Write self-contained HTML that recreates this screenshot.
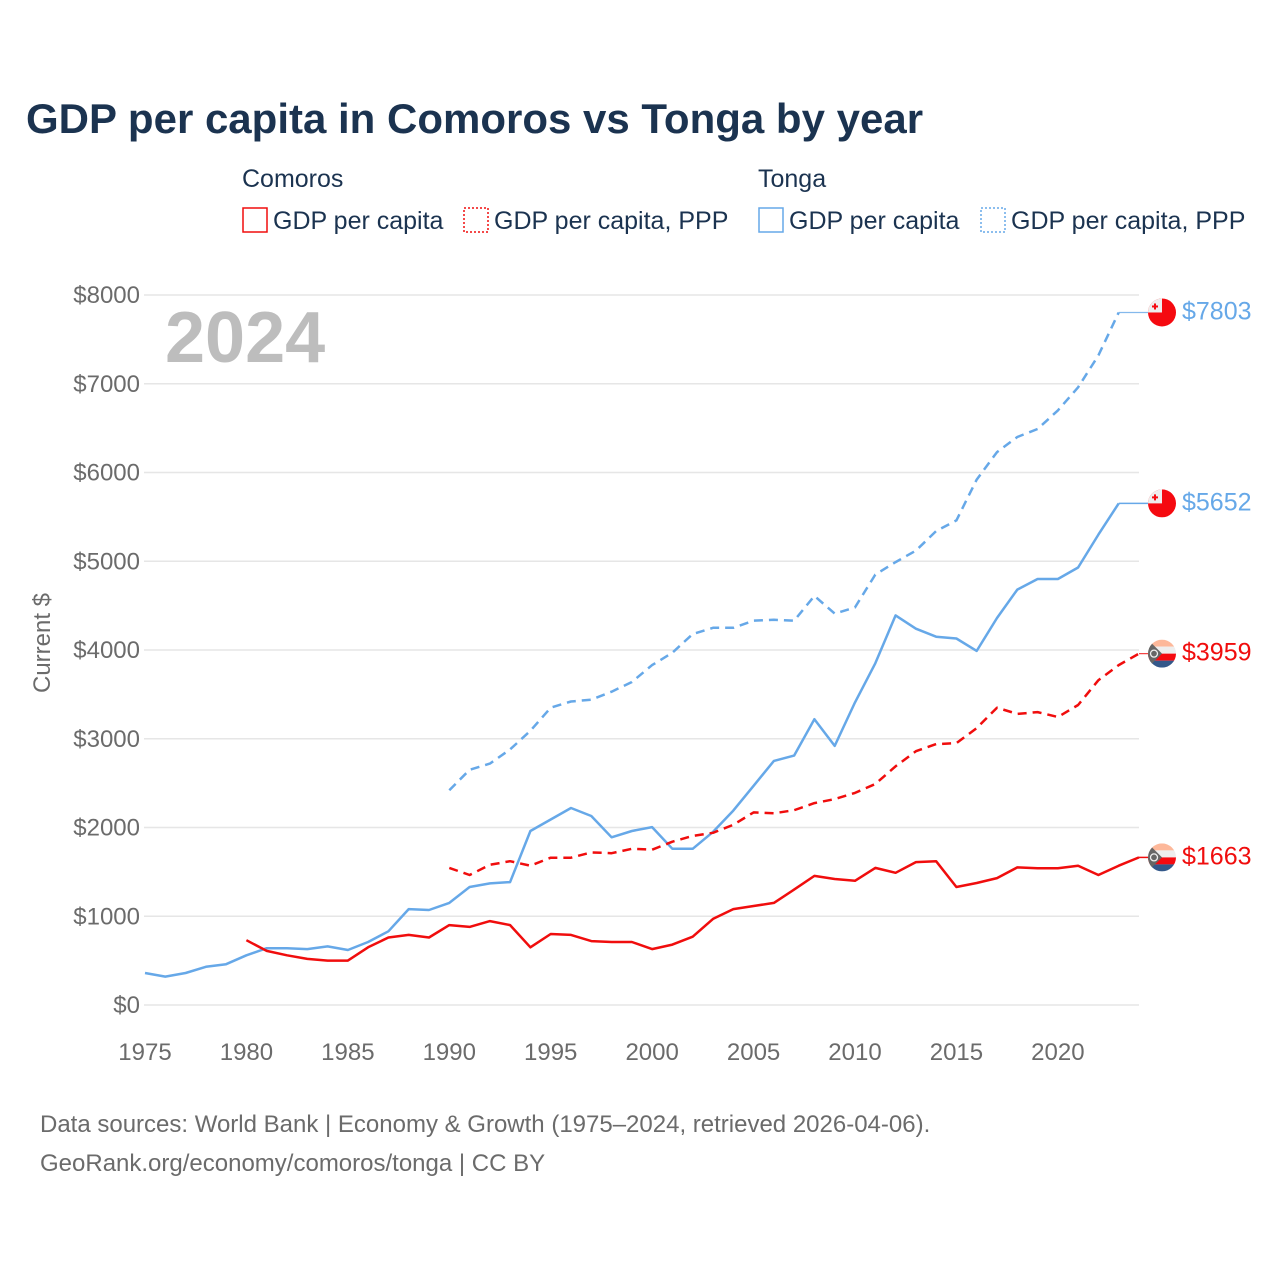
<!DOCTYPE html>
<html><head><meta charset="utf-8">
<style>
html,body{margin:0;padding:0;background:#fff;}
svg{display:block;font-family:"Liberation Sans",sans-serif;}
</style></head>
<body>
<svg id="chart" width="1280" height="1280" viewBox="0 0 1280 1280" xmlns="http://www.w3.org/2000/svg">
  <text x="26" y="133" font-size="42" font-weight="bold" fill="#1b3350">GDP per capita in Comoros vs Tonga by year</text>
  <g font-size="25" fill="#1b3350">
    <text x="242" y="187">Comoros</text>
    <text x="758" y="187">Tonga</text>
    <g><rect x="243" y="208" width="24" height="24" fill="none" stroke="#f00d0d" stroke-width="1.5"/><text x="273" y="229">GDP per capita</text></g>
    <g><rect x="464" y="208" width="24" height="24" fill="none" stroke="#f00d0d" stroke-width="1.5" stroke-dasharray="2,2"/><text x="494" y="229">GDP per capita, PPP</text></g>
    <g><rect x="759" y="208" width="24" height="24" fill="none" stroke="#66a8e8" stroke-width="1.5"/><text x="789" y="229">GDP per capita</text></g>
    <g><rect x="981" y="208" width="24" height="24" fill="none" stroke="#66a8e8" stroke-width="1.5" stroke-dasharray="2,2"/><text x="1011" y="229">GDP per capita, PPP</text></g>
  </g>
  <text x="165" y="362" font-size="72" font-weight="bold" fill="#bdbdbd">2024</text>
  <text transform="translate(50,643) rotate(-90)" text-anchor="middle" font-size="24" fill="#6b6b6b">Current $</text>
  <g id="grid"></g>
  <g id="axes"></g>
  <g id="series"></g>
  <g id="labels"></g>
  <g font-size="24" fill="#6b6b6b">
    <text x="40" y="1132">Data sources: World Bank | Economy &amp; Growth (1975–2024, retrieved 2026-04-06).</text>
    <text x="40" y="1171">GeoRank.org/economy/comoros/tonga | CC BY</text>
  </g>
</svg>
<script>
const yTicks = [0,1000,2000,3000,4000,5000,6000,7000,8000];
const xTicks = [1975,1980,1985,1990,1995,2000,2005,2010,2015,2020];
const tongaGdpStart = 1975;
const tongaGdp = [360,320,360,430,460,560,640,640,630,660,620,710,830,1080,1070,1150,1330,1370,1385,1960,2090,2220,2130,1890,1960,2005,1760,1760,1950,2190,2470,2750,2810,3220,2920,3410,3850,4390,4240,4150,4130,3990,4360,4680,4800,4800,4930,5300,5652];
const tongaPppStart = 1990;
const tongaPpp = [2420,2650,2720,2880,3090,3350,3420,3440,3530,3640,3830,3970,4180,4250,4250,4330,4340,4330,4610,4410,4480,4850,4990,5120,5340,5460,5920,6230,6400,6490,6700,6960,7320,7803];
const comorosGdpStart = 1980;
const comorosGdp = [730,610,560,520,500,500,650,760,790,760,900,880,945,900,650,800,790,720,710,710,630,680,770,970,1080,1115,1150,1300,1455,1420,1400,1545,1490,1610,1620,1330,1375,1430,1550,1540,1540,1570,1465,1570,1663];
const comorosPppStart = 1990;
const comorosPpp = [1545,1465,1580,1620,1570,1660,1660,1720,1710,1760,1750,1840,1905,1940,2030,2170,2160,2195,2275,2320,2390,2490,2690,2860,2940,2950,3120,3350,3280,3300,3245,3380,3660,3830,3959];

const NS="http://www.w3.org/2000/svg";
const X0=145, X1=1139, Y0=1005, YT=295;
const x = yr => X0 + (yr-1975)*(X1-X0)/49;
const y = v => Y0 - v*(Y0-YT)/8000;
function mk(tag, attrs, parent){const e=document.createElementNS(NS,tag);for(const k in attrs)e.setAttribute(k,attrs[k]);parent.appendChild(e);return e;}
const grid=document.getElementById('grid'), axes=document.getElementById('axes'), series=document.getElementById('series'), labels=document.getElementById('labels');
yTicks.forEach(v=>{
  const l=mk('line',{x1:X0-1,x2:X1,y1:y(v),y2:y(v),stroke:'#e6e6e6','stroke-width':1.5},grid);
  
  
  const t=mk('text',{x:140,y:y(v)+8,'text-anchor':'end','font-size':24,fill:'#6b6b6b'},axes);
  t.textContent='$'+v;
  
  
});
xTicks.forEach(yr=>{
  const t=mk('text',{x:x(yr),y:1060,'text-anchor':'middle','font-size':24,fill:'#6b6b6b'},axes);
  t.textContent=yr;
  
  
});
function line(data,start,color,dash,name){
  const pts=data.map((v,i)=>x(start+i).toFixed(1)+','+y(v).toFixed(1)).join(' ');
  const p=mk('polyline',{points:pts,fill:'none',stroke:color,'stroke-width':2.5,'stroke-linejoin':'round'},series);
  if(dash)p.setAttribute('stroke-dasharray',dash);
  
  
  const last=data[data.length-1], lx=x(start+data.length-1), ly=y(last);
  const c=mk('line',{x1:lx,y1:ly,x2:1150,y2:ly,stroke:color,'stroke-width':dash?1.2:1.5,opacity:dash?0.8:1},series);
  
  
  return ly;
}
function flag(cy,kind){
  const g=mk('g',{},labels);
  
  
  const cx=1162,r=14;
  const id='clip'+kind+Math.round(cy);
  const cp=mk('clipPath',{id:id},g); mk('circle',{cx:cx,cy:cy,r:r},cp);
  const gg=mk('g',{'clip-path':'url(#'+id+')'},g);
  if(kind==='tonga'){
    mk('rect',{x:cx-r,y:cy-r,width:2*r,height:2*r,fill:'#f50a10'},gg);
    mk('rect',{x:cx-r,y:cy-r,width:r,height:r,fill:'#eee'},gg);
    mk('rect',{x:cx-8,y:cy-9,width:2,height:6,fill:'#f50a10'},gg);
    mk('rect',{x:cx-10,y:cy-7,width:6,height:2,fill:'#f50a10'},gg);
  } else {
    const cols=['#fdb89a','#eeeeee','#f50a10','#33588a'];
    cols.forEach((c,i)=>mk('rect',{x:cx-r,y:cy-r+i*7,width:2*r,height:7,fill:c},gg));
    mk('polygon',{points:(cx-r)+','+(cy-r)+' '+(cx)+','+cy+' '+(cx-r)+','+(cy+r),fill:'#666'},gg);
    mk('circle',{cx:cx-8,cy:cy,r:3.5,fill:'none',stroke:'#eee','stroke-width':1.3},gg);
  }
}
function label(cy,val,color,name){
  const t=mk('text',{x:1182,y:cy+7,'font-size':25,fill:color},labels);
  t.textContent='$'+val;
  
  
}
const a=line(tongaPpp,tongaPppStart,'#66a8e8','9,6','tonga-ppp-line');
const b=line(tongaGdp,tongaGdpStart,'#66a8e8',null,'tonga-gdp-line');
const c=line(comorosPpp,comorosPppStart,'#f00d0d','9,6','comoros-ppp-line');
const d=line(comorosGdp,comorosGdpStart,'#f00d0d',null,'comoros-gdp-line');
flag(a,'tonga');flag(b,'tonga');flag(c,'comoros');flag(d,'comoros');
label(a,tongaPpp[tongaPpp.length-1],'#66a8e8','tonga-ppp-end-label');
label(b,tongaGdp[tongaGdp.length-1],'#66a8e8','tonga-gdp-end-label');
label(c,comorosPpp[comorosPpp.length-1],'#f00d0d','comoros-ppp-end-label');
label(d,comorosGdp[comorosGdp.length-1],'#f00d0d','comoros-gdp-end-label');
</script>
</body></html>
